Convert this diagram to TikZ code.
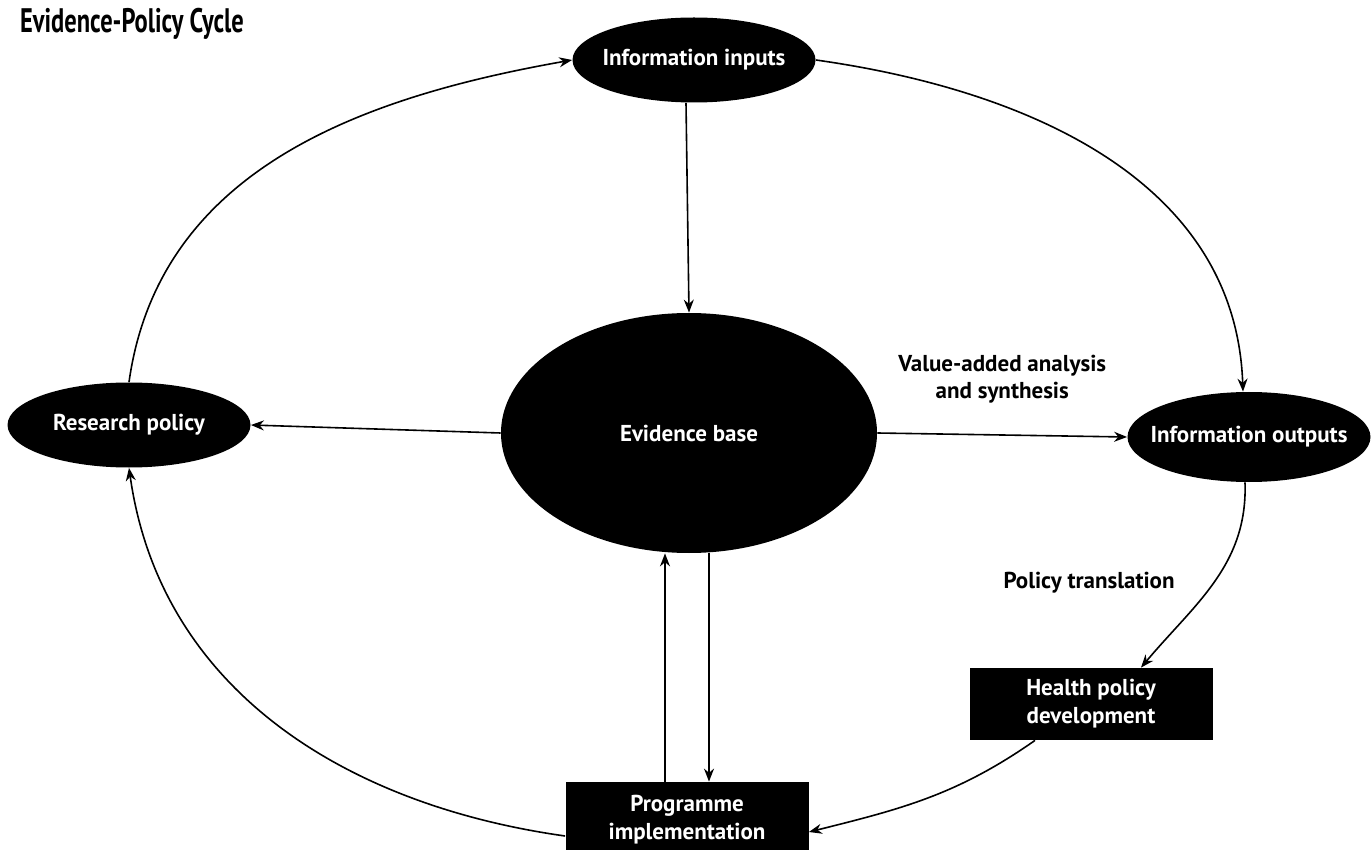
\documentclass[tikz,border=0pt]{standalone}
\usepackage{fontspec}
\setmainfont{PT Sans}
\usetikzlibrary{shapes.geometric, arrows.meta, positioning, calc}

\begin{document}
\begin{tikzpicture}[x=0.5pt, y=-0.5pt]
    \tikzstyle{bubble} = [ellipse, fill=black, text=white, inner sep=0pt, inner xsep=-8pt, minimum width=121.5pt, minimum height=42.5pt, font=\fontsize{11.5}{13}\selectfont\bfseries]
    \tikzstyle{bigbubble} = [bubble, minimum width=188pt, minimum height=120pt]
    \tikzstyle{block} = [rectangle, fill=black, text=white, align=center, inner sep=0pt, minimum width=121.5pt, minimum height=36pt, font=\fontsize{11.5}{14}\selectfont\bfseries]
    \tikzstyle{note} = [align=center, font=\fontsize{11.5}{13.5}\selectfont\bfseries]
    \tikzstyle{arrow} = [line width=0.8pt, -{Stealth[length=6.5pt, width=5pt]}]

    \useasboundingbox (0,0) rectangle (1372,850);

    \node[anchor=west, xscale=0.72, transform shape, font=\fontsize{17}{19}\selectfont\bfseries] (title) at (15,24) {Evidence-Policy Cycle};

    \node[bubble] (inputs) at (694,60) {Information inputs};
    \node[bubble] (research) at (129,425) {Research policy};
    \node[bigbubble] (evidence) at (689,433) {Evidence base};
    \node[bubble, minimum height=45pt] (outputs) at (1249,437) {Information outputs};
    \node[block] (health) at (1091,704) {Health policy\\development};
    \node[block, minimum height=38pt] (prog) at (687,820) {Programme\\implementation};

    \draw[arrow] (research.north) to[out=82, in=190] (inputs.west);
    \draw[arrow] (inputs.east) to[out=-8, in=92] ([xshift=-3pt]outputs.north);
    \draw[arrow] ([xshift=-4pt]inputs.south) -- (evidence.north);
    \draw[arrow] (evidence.west) -- (research.east);
    \draw[arrow] (evidence.east) -- node[note, above=12pt] (valuenote) {Value-added analysis\\and synthesis} (outputs.west);
    \draw[arrow] ([xshift=-2pt]outputs.south) to[out=-88, in=50] node[note, pos=0.5, left=16pt] (transnote) {Policy translation} ([xshift=25pt]health.north);
    \draw[arrow] ([xshift=-28pt]health.south) to[out=215, in=14] ([yshift=-6pt]prog.east);
    \draw[arrow] ([yshift=-8pt]prog.west) to[out=172, in=-82] (research.south);
    \draw[arrow] ([xshift=-11pt]prog.north) -- ([xshift=-12pt]evidence.south);
    \draw[arrow] ([xshift=10pt]evidence.south) -- ([xshift=11pt]prog.north);
\end{tikzpicture}
\end{document}
